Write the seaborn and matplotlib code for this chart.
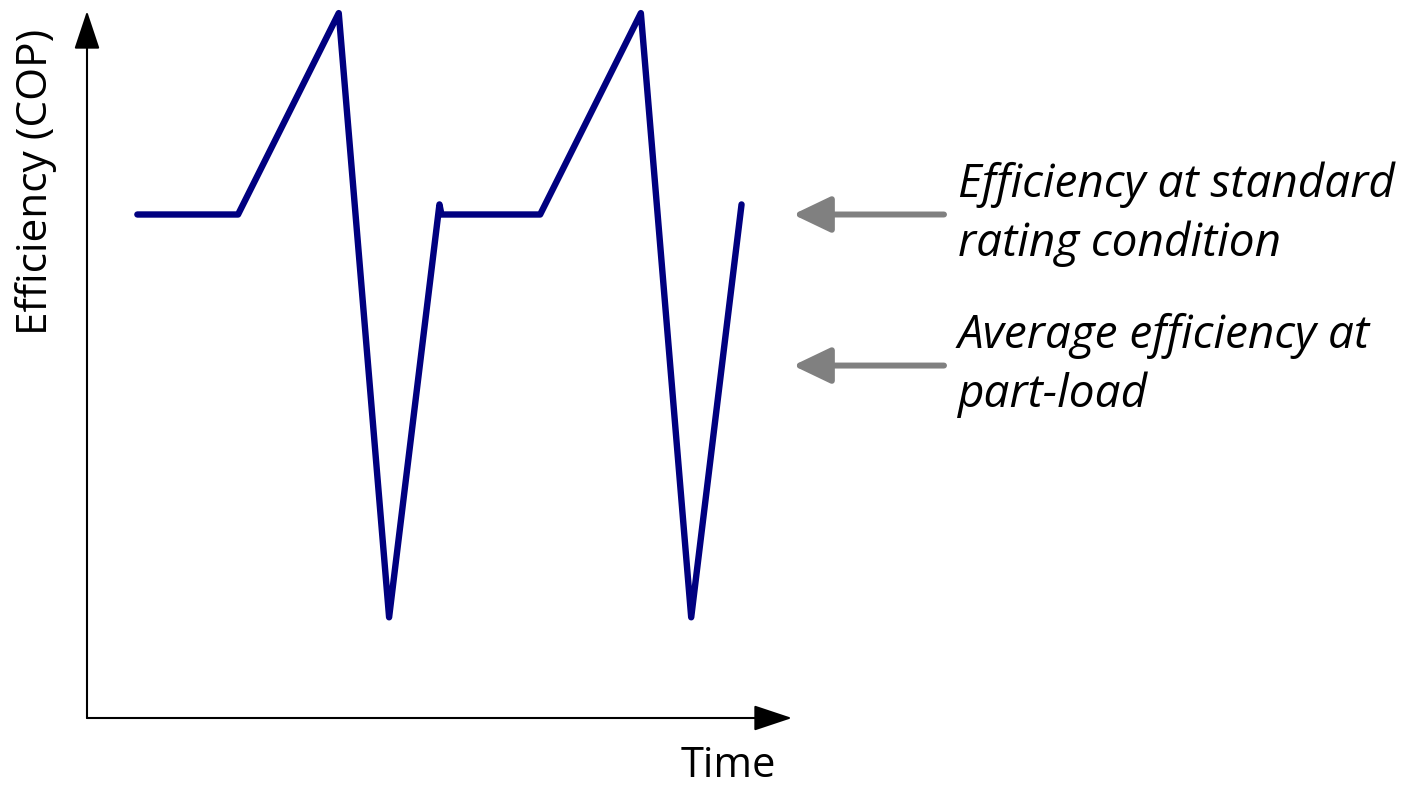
import numpy as np
import pandas as pd
import seaborn as sns
import matplotlib.pyplot as plt

# cycle of compressor efficiency over time (arbitrary units)
time = [0.5, 1.5, 2.5, 3.0, 3.5, 3.52, 4.5, 5.5, 6.0, 6.5]
cop = [5.0, 5.0, 7.0, 1.0, 5.1, 5.0, 5.0, 7.0, 1.0, 5.1]

level_standard = 5.0
level_part_load = 3.5
label_standard = "Efficiency at standard\nrating condition"
label_part_load = "Average efficiency at\npart-load"

df = pd.DataFrame({"time": time, "cop": cop})

sns.set_style("white")
plt.rcParams["font.family"] = ["Open Sans", "DejaVu Sans"]
plt.rcParams["text.color"] = "black"

W, H = 1402, 787
unit = 100.7  # px per data unit
x0, y0 = 87, 718  # origin in px (from top)

fig = plt.figure(figsize=(W / 100, H / 100), dpi=100)
ax = fig.add_axes([x0 / W, (H - y0) / H, (W - x0) / W, y0 / H])
ax.set_xlim(0, (W - x0) / unit)
ax.set_ylim(0, y0 / unit)
ax.axis("off")

sns.lineplot(data=df, x="time", y="cop", sort=False, estimator=None, ax=ax,
             color="#000080", linewidth=4.6, solid_capstyle="round",
             solid_joinstyle="round")
for l in ax.lines:
    l.set_clip_on(False)

# axes with arrow heads
ax.annotate("", xy=(0, (y0 - 11) / unit), xytext=(0, 0),
            arrowprops=dict(arrowstyle="-|>,head_length=2.4,head_width=0.8",
                            color="black", lw=1.5, shrinkA=0, shrinkB=0),
            annotation_clip=False)
ax.annotate("", xy=((792 - x0) / unit, 0), xytext=(0, 0),
            arrowprops=dict(arrowstyle="-|>,head_length=2.4,head_width=0.8",
                            color="black", lw=1.5, shrinkA=0, shrinkB=0),
            annotation_clip=False)

# pointer arrows and labels
for lev, lab in [(level_standard, label_standard), (level_part_load, label_part_load)]:
    ax.annotate("", xy=((793 - x0) / unit, lev), xytext=((944 - x0) / unit, lev),
                arrowprops=dict(arrowstyle="-|>,head_length=2.3,head_width=1.1",
                                color="#808080", lw=4.3, shrinkA=0, shrinkB=0,
                                capstyle="round"))
    ax.text((958 - x0) / unit, lev, lab, fontsize=33, style="italic",
            ha="left", va="center", linespacing=1.34)

fig.text(36 / W, 1 - 182 / H, "Efficiency (COP)", rotation=90, fontsize=30.5,
         ha="center", va="center")
fig.text(728 / W, 1 - 766 / H, "Time", fontsize=30, ha="center", va="center")

fig.savefig("out.png", dpi=100)
